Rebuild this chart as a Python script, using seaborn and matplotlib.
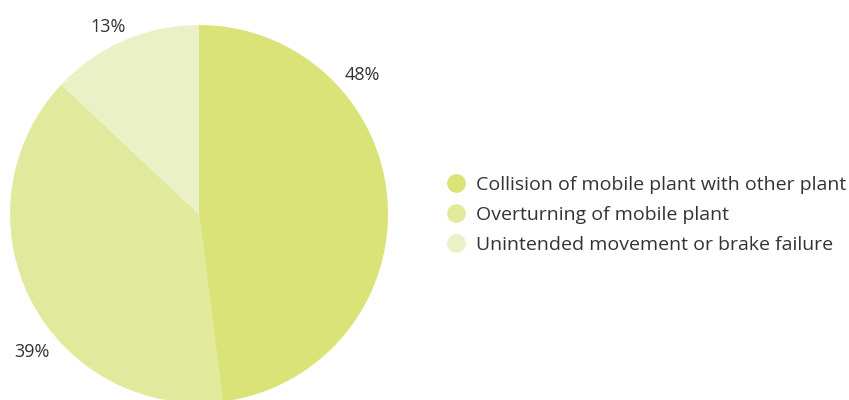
import matplotlib
matplotlib.use("Agg")
import matplotlib.pyplot as plt
from matplotlib.lines import Line2D
import seaborn as sns

categories = ["Collision of mobile plant with other plant",
              "Overturning of mobile plant",
              "Unintended movement or brake failure"]
shares = [48, 39, 13]
pct_labels = ["48%", "39%", "13%"]
colors = ["#d9e377", "#e1ea9c", "#ebf1c7"]

sns.set_theme(style="white")
plt.rcParams['font.family'] = ['Open Sans', 'DejaVu Sans']

fig = plt.figure(figsize=(8.49, 4.0), dpi=100)
# pie centre at ~(199, 214) px, radius ~189 px
ax = fig.add_axes([10 / 849, -3 / 400, 378 / 849, 378 / 400])
wedges, _ = ax.pie(shares, colors=colors, startangle=90, counterclock=False,
                   radius=1.0, wedgeprops=dict(linewidth=0))
ax.set_xlim(-1, 1)
ax.set_ylim(-1, 1)
ax.set_aspect('equal')
ax.axis('off')

label_pos = [(0.862, 0.735), (-0.884, -0.730), (-0.481, 0.989)]
for (x, y), txt in zip(label_pos, pct_labels):
    ax.text(x, y, txt, ha='center', va='center', fontsize=13, color='#333333',
            clip_on=False)

handles = [Line2D([0], [0], marker='o', linestyle='none', markersize=13.5,
                  markerfacecolor=c, markeredgewidth=0) for c in colors]
fig.legend(handles, categories, loc='center left',
           bbox_to_anchor=(444 / 849, 1 - 215 / 400), frameon=False,
           fontsize=14, labelcolor='#333333', handletextpad=0.45,
           labelspacing=0.62, borderpad=0, borderaxespad=0, handlelength=1.2)

fig.savefig("out.png", dpi=100)
